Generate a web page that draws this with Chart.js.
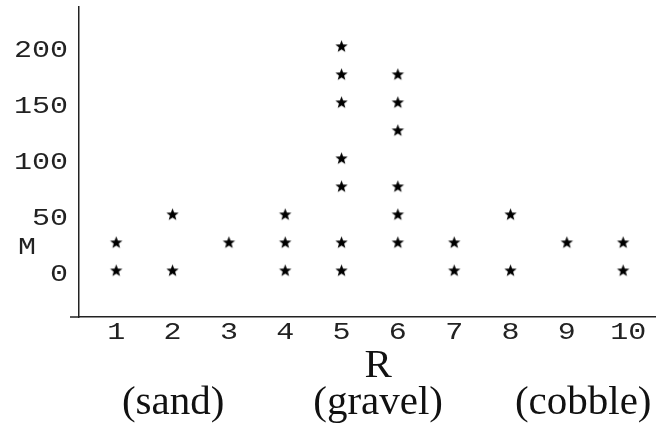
<!DOCTYPE html>
<html>
<head>
<meta charset="utf-8">
<script src="https://cdn.jsdelivr.net/npm/chart.js@4"></script>
<style>
  html, body { margin: 0; padding: 0; background: #fff; }
  #wrap { width: 662px; height: 425px; }
</style>
</head>
<body>
<div id="wrap"><canvas id="chart"></canvas></div>
<script>
// data
const rTicks = [1, 2, 3, 4, 5, 6, 7, 8, 9, 10];
const mTicks = [0, 50, 100, 150, 200];
const mByR = [
  [0, 25],
  [0, 50],
  [25],
  [0, 25, 50],
  [0, 25, 75, 100, 150, 175, 200],
  [25, 50, 75, 125, 150, 175],
  [0, 25],
  [0, 50],
  [25],
  [0, 25]
];
const xLabel = 'R';
const yLabel = 'M';
const soilLabels = ['(sand)', '(gravel)', '(cobble)'];

// {{{ star marker
function starImage(r)
{
  let cv = document.createElement('canvas');
  let n = Math.ceil(r * 2) + 2;
  cv.width = n;
  cv.height = n;
  let g = cv.getContext('2d');
  g.translate(n / 2, n / 2);
  g.beginPath();
  for (let i = 0; i < 10; i++)
  {
    let rr = (i % 2 == 0) ? r : r * 0.42;
    let a = -Math.PI / 2 + i * Math.PI / 5;
    g.lineTo(rr * Math.cos(a), rr * Math.sin(a));
  }
  g.closePath();
  g.fillStyle = '#000';
  g.fill();
  return cv;
}
// }}}

let pts = [];
for (let i = 0; i < rTicks.length; i++)
{
  for (let m of mByR[i])
  {
    pts.push({x: rTicks[i], y: m});
  }
}

const mono = '"Liberation Mono", "DejaVu Sans Mono", monospace';
const serif = '"Liberation Serif", "DejaVu Serif", serif';

// {{{ text plugin
const textPlugin =
{
  id: 'texts',
  afterDraw(chart)
  {
    let ctx = chart.ctx;
    let x = chart.scales.x;
    let y = chart.scales.y;
    let area = chart.chartArea;
    ctx.save();
    // x axis stub left of the y axis
    ctx.strokeStyle = '#222';
    ctx.lineWidth = 1.5;
    ctx.beginPath();
    ctx.moveTo(area.left - 9, area.bottom);
    ctx.lineTo(area.left, area.bottom);
    ctx.stroke();
    ctx.fillStyle = '#222';
    ctx.font = '24px ' + mono;
    let sx = 1.25;
    // y ticks
    ctx.textAlign = 'right';
    ctx.textBaseline = 'middle';
    for (let v of mTicks)
    {
      ctx.save();
      ctx.translate(68, y.getPixelForValue(v) + 4);
      ctx.scale(sx, 1);
      ctx.fillText(String(v), 0, 0);
      ctx.restore();
    }
    // y label
    ctx.save();
    ctx.translate(27, 248);
    ctx.scale(sx, 1);
    ctx.textAlign = 'center';
    ctx.fillText(yLabel, 0, 0);
    ctx.restore();
    // x ticks
    ctx.textAlign = 'center';
    for (let v of rTicks)
    {
      ctx.save();
      ctx.translate(x.getPixelForValue(v) + (v >= 10 ? 5 : 0), 333);
      ctx.scale(sx, 1);
      ctx.fillText(String(v), 0, 0);
      ctx.restore();
    }
    // axis title and soil classes
    ctx.fillStyle = '#111';
    ctx.font = '41px ' + serif;
    ctx.textBaseline = 'alphabetic';
    ctx.fillText(xLabel, x.getPixelForValue(5.65), 377);
    let at = [2.01, 5.65, 9.29];
    for (let i = 0; i < soilLabels.length; i++)
    {
      ctx.fillText(soilLabels[i], x.getPixelForValue(at[i]), 414);
    }
    ctx.restore();
  }
};
// }}}

new Chart(document.getElementById('chart'),
{
  type: 'scatter',
  data:
  {
    datasets:
    [
      {
        data: pts,
        pointStyle: starImage(6.5),
        pointRadius: 6,
        pointHoverRadius: 6,
        backgroundColor: '#000',
        borderColor: '#000'
      }
    ]
  },
  options:
  {
    responsive: true,
    maintainAspectRatio: false,
    animation: false,
    events: [],
    layout: {padding: {left: 79, top: 7, right: 4, bottom: 108}},
    plugins: {legend: {display: false}, tooltip: {enabled: false}},
    scales:
    {
      x:
      {
        type: 'linear',
        min: 0.339,
        max: 10.565,
        ticks: {display: false},
        grid: {display: false, drawTicks: false},
        border: {display: true, color: '#222', width: 1.5}
      },
      y:
      {
        type: 'linear',
        min: -41.2,
        max: 235.4,
        ticks: {display: false},
        grid: {display: false, drawTicks: false},
        border: {display: true, color: '#222', width: 1.5}
      }
    }
  },
  plugins: [textPlugin]
});
</script>
</body>
</html>
